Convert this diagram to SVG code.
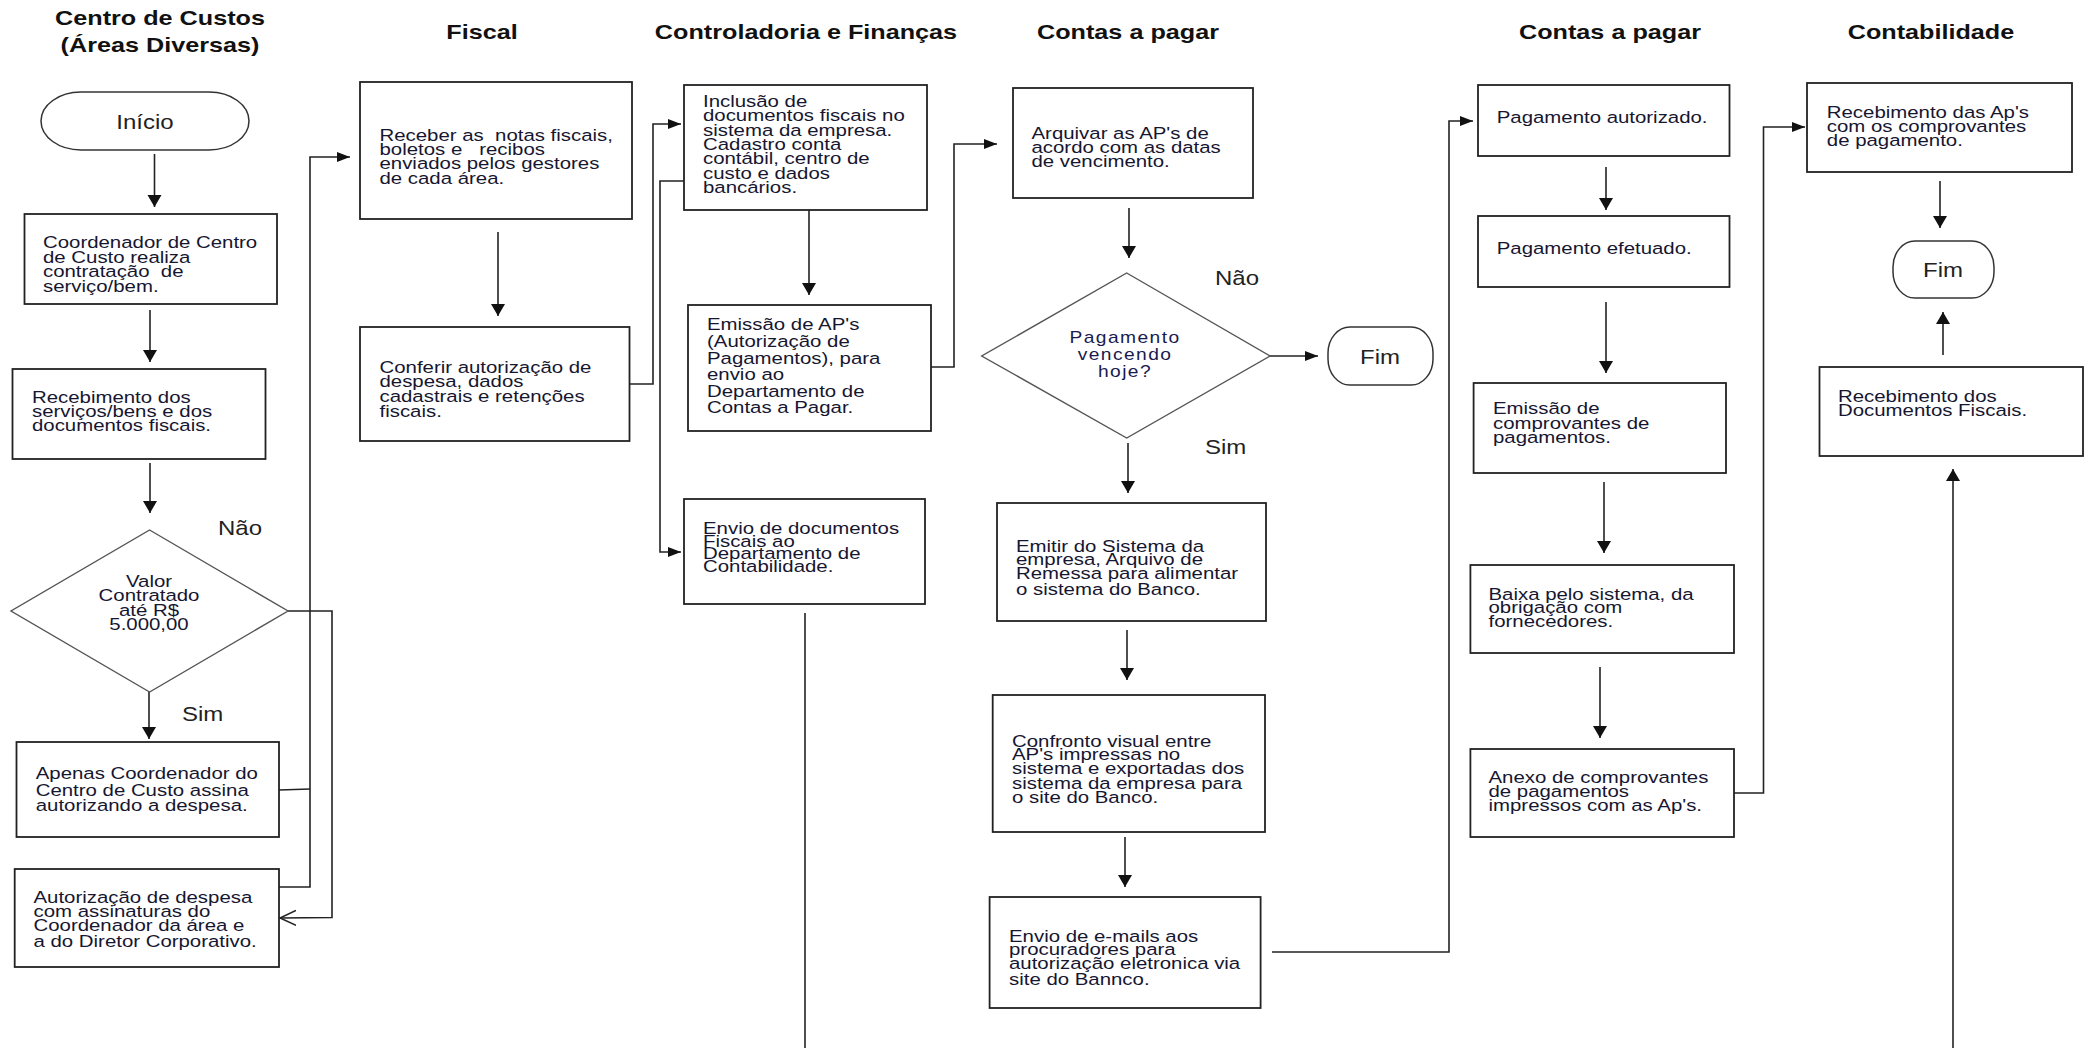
<svg xmlns="http://www.w3.org/2000/svg" width="2089" height="1048" viewBox="0 0 2089 1048">
<style>
.bg{fill:#fff}
.box{fill:#fff;stroke:#222;stroke-width:1.8}
.dia{fill:#fff;stroke:#555;stroke-width:1.4}
.term{fill:#fff;stroke:#333;stroke-width:1.5}
.con{fill:none;stroke:#222;stroke-width:1.6}
.t{font-family:"Liberation Sans",Arial,sans-serif;font-size:17px;fill:#161630;white-space:pre}
.tc{font-family:"Liberation Sans",Arial,sans-serif;font-size:17px;fill:#161630;text-anchor:middle}
.ttl{font-family:"Liberation Sans",Arial,sans-serif;font-size:20px;font-weight:bold;fill:#111;text-anchor:middle}
.lbl{font-family:"Liberation Sans",Arial,sans-serif;font-size:20px;fill:#222}
.term-t{font-family:"Liberation Sans",Arial,sans-serif;font-size:20px;fill:#222;text-anchor:middle}
.dq{font-family:"Liberation Sans",Arial,sans-serif;font-size:16px;fill:#1a1a50;text-anchor:middle;letter-spacing:1.2px}
</style>
<defs>
<marker id="ah" markerUnits="userSpaceOnUse" markerWidth="14" markerHeight="12" refX="13" refY="5" orient="auto">
<path d="M0,0 L13,5 L0,10 z" fill="#111"/>
</marker>
<marker id="av" markerUnits="userSpaceOnUse" markerWidth="13" markerHeight="15" refX="12" refY="7" orient="auto">
<path d="M0,0 L12,7 L0,14 z" fill="#111"/>
</marker>
<marker id="ao" markerUnits="userSpaceOnUse" markerWidth="18" markerHeight="18" refX="16" refY="8" orient="auto">
<path d="M0,0.5 L16,8 L0,15.5" fill="none" stroke="#222" stroke-width="1.5"/>
</marker>
</defs>
<rect class="bg" x="0" y="0" width="2089" height="1048"/>

<g id="titles">
<text class="ttl" transform="translate(160,25) scale(1.26,1)"><tspan x="0" y="0">Centro de Custos</tspan><tspan x="0" y="27">(Áreas Diversas)</tspan></text>
<text class="ttl" transform="translate(482,39) scale(1.26,1)">Fiscal</text>
<text class="ttl" transform="translate(806,39) scale(1.26,1)">Controladoria e Finanças</text>
<text class="ttl" transform="translate(1128,39) scale(1.26,1)">Contas a pagar</text>
<text class="ttl" transform="translate(1610,39) scale(1.26,1)">Contas a pagar</text>
<text class="ttl" transform="translate(1931,39) scale(1.26,1)">Contabilidade</text>
</g>

<g id="connectors">
<line class="con" x1="154.5" y1="154" x2="154.5" y2="207" marker-end="url(#av)"/>
<line class="con" x1="150" y1="310" x2="150" y2="362" marker-end="url(#av)"/>
<line class="con" x1="150" y1="463" x2="150" y2="513" marker-end="url(#av)"/>
<line class="con" x1="149" y1="692" x2="149" y2="739" marker-end="url(#av)"/>
<polyline class="con" points="288,611 332,611 332,917.5 280,918" marker-end="url(#ao)"/>
<line class="con" x1="279" y1="790" x2="310" y2="789"/>
<polyline class="con" points="279,887 310,887 310,157 350,157" marker-end="url(#ah)"/>
<line class="con" x1="498" y1="232" x2="498" y2="316" marker-end="url(#av)"/>
<polyline class="con" points="629.5,384 653,384 653,124 681,124" marker-end="url(#ah)"/>
<polyline class="con" points="684,181 660,181 660,552 681,552" marker-end="url(#ah)"/>
<line class="con" x1="809" y1="210" x2="809" y2="295" marker-end="url(#av)"/>
<line class="con" x1="805" y1="613" x2="805" y2="1048"/>
<polyline class="con" points="931,367 954,367 954,144 997,144" marker-end="url(#ah)"/>
<line class="con" x1="1129" y1="208" x2="1129" y2="258" marker-end="url(#av)"/>
<line class="con" x1="1270" y1="356" x2="1318" y2="356" marker-end="url(#ah)"/>
<line class="con" x1="1128" y1="443" x2="1128" y2="493" marker-end="url(#av)"/>
<line class="con" x1="1127" y1="630" x2="1127" y2="680" marker-end="url(#av)"/>
<line class="con" x1="1125" y1="837" x2="1125" y2="887" marker-end="url(#av)"/>
<polyline class="con" points="1272,952 1449,952 1449,121 1473,121" marker-end="url(#ah)"/>
<line class="con" x1="1606" y1="167" x2="1606" y2="210" marker-end="url(#av)"/>
<line class="con" x1="1606" y1="302" x2="1606" y2="373" marker-end="url(#av)"/>
<line class="con" x1="1604" y1="482" x2="1604" y2="553" marker-end="url(#av)"/>
<line class="con" x1="1600" y1="667" x2="1600" y2="738" marker-end="url(#av)"/>
<polyline class="con" points="1734,793 1763.5,793 1763.5,127 1805,127" marker-end="url(#ah)"/>
<line class="con" x1="1940" y1="181" x2="1940" y2="228" marker-end="url(#av)"/>
<line class="con" x1="1943" y1="355" x2="1943" y2="312" marker-end="url(#av)"/>
<line class="con" x1="1953" y1="1048" x2="1953" y2="469" marker-end="url(#av)"/>
</g>

<g id="labels">
<text class="lbl" transform="translate(218,535) scale(1.2,1)">Não</text>
<text class="lbl" transform="translate(182,721) scale(1.2,1)">Sim</text>
<text class="lbl" transform="translate(1215,285) scale(1.2,1)">Não</text>
<text class="lbl" transform="translate(1205,454) scale(1.2,1)">Sim</text>
</g>

<g id="inicio">
<rect class="term" x="41" y="92" width="208" height="58" rx="40" ry="29"/>
<text class="term-t" transform="translate(145,129) scale(1.2,1)">Início</text>
</g>

<g id="coordenador">
<rect class="box" x="24.5" y="214" width="252.5" height="90"/>
<text class="t" transform="translate(43,248) scale(1.2,1)"><tspan x="0" y="0">Coordenador de Centro</tspan><tspan x="0" y="15">de Custo realiza</tspan><tspan x="0" y="29">contratação  de</tspan><tspan x="0" y="44">serviço/bem.</tspan></text>
</g>

<g id="recebimento">
<rect class="box" x="12.5" y="369" width="253" height="90"/>
<text class="t" transform="translate(32,403) scale(1.2,1)"><tspan x="0" y="0">Recebimento dos</tspan><tspan x="0" y="14">serviços/bens e dos</tspan><tspan x="0" y="28">documentos fiscais.</tspan></text>
</g>

<g id="decisao-valor">
<polygon class="dia" points="149.6,530 288,611 149.6,692 11,611"/>
<text class="tc" transform="translate(149,587) scale(1.2,1)"><tspan x="0" y="0">Valor</tspan><tspan x="0" y="14">Contratado</tspan><tspan x="0" y="29">até R$</tspan><tspan x="0" y="43">5.000,00</tspan></text>
</g>

<g id="apenas">
<rect class="box" x="16.5" y="742" width="262.5" height="95"/>
<text class="t" transform="translate(35.7,779) scale(1.2,1)"><tspan x="0" y="0">Apenas Coordenador do</tspan><tspan x="0" y="17">Centro de Custo assina</tspan><tspan x="0" y="32">autorizando a despesa.</tspan></text>
</g>

<g id="autorizacao">
<rect class="box" x="14.7" y="869" width="264.3" height="98"/>
<text class="t" transform="translate(33.5,903) scale(1.2,1)"><tspan x="0" y="0">Autorização de despesa</tspan><tspan x="0" y="14">com assinaturas do</tspan><tspan x="0" y="28">Coordenador da área e</tspan><tspan x="0" y="44">a do Diretor Corporativo.</tspan></text>
</g>

<g id="fiscal-receber">
<rect class="box" x="360" y="82" width="272" height="137"/>
<text class="t" transform="translate(379.5,141) scale(1.2,1)"><tspan x="0" y="0">Receber as  notas fiscais,</tspan><tspan x="0" y="14">boletos e   recibos</tspan><tspan x="0" y="28">enviados pelos gestores</tspan><tspan x="0" y="43">de cada área.</tspan></text>
</g>

<g id="fiscal-conferir">
<rect class="box" x="360" y="327" width="269.5" height="114"/>
<text class="t" transform="translate(379.5,373) scale(1.2,1)"><tspan x="0" y="0">Conferir autorização de</tspan><tspan x="0" y="14">despesa, dados</tspan><tspan x="0" y="29">cadastrais e retenções</tspan><tspan x="0" y="44">fiscais.</tspan></text>
</g>

<g id="inclusao">
<rect class="box" x="684" y="85" width="243" height="125"/>
<text class="t" transform="translate(703,107) scale(1.2,1)"><tspan x="0" y="0">Inclusão de</tspan><tspan x="0" y="14">documentos fiscais no</tspan><tspan x="0" y="29">sistema da empresa.</tspan><tspan x="0" y="43">Cadastro conta</tspan><tspan x="0" y="57">contábil, centro de</tspan><tspan x="0" y="72">custo e dados</tspan><tspan x="0" y="86">bancários.</tspan></text>
</g>

<g id="emissao-ap">
<rect class="box" x="688" y="305" width="243" height="126"/>
<text class="t" transform="translate(707,330) scale(1.2,1)"><tspan x="0" y="0">Emissão de AP's</tspan><tspan x="0" y="17">(Autorização de</tspan><tspan x="0" y="34">Pagamentos), para</tspan><tspan x="0" y="50">envio ao</tspan><tspan x="0" y="67">Departamento de</tspan><tspan x="0" y="83">Contas a Pagar.</tspan></text>
</g>

<g id="envio-docs">
<rect class="box" x="684" y="499" width="241" height="105"/>
<text class="t" transform="translate(703,534) scale(1.2,1)"><tspan x="0" y="0">Envio de documentos</tspan><tspan x="0" y="13">Fiscais ao</tspan><tspan x="0" y="25">Departamento de</tspan><tspan x="0" y="38">Contabilidade.</tspan></text>
</g>

<g id="arquivar">
<rect class="box" x="1013" y="88" width="240" height="110"/>
<text class="t" transform="translate(1031.5,139) scale(1.2,1)"><tspan x="0" y="0">Arquivar as AP's de</tspan><tspan x="0" y="14">acordo com as datas</tspan><tspan x="0" y="28">de vencimento.</tspan></text>
</g>

<g id="decisao-vencendo">
<polygon class="dia" points="1126.7,273 1270,356 1126.7,438 981.7,356"/>
<text class="dq" transform="translate(1125,343) scale(1.2,1)"><tspan x="0" y="0">Pagamento</tspan><tspan x="0" y="17">vencendo</tspan><tspan x="0" y="34">hoje?</tspan></text>
</g>

<g id="fim-1">
<rect class="term" x="1328" y="327" width="105" height="58" rx="22" ry="26"/>
<text class="term-t" transform="translate(1380,364) scale(1.2,1)">Fim</text>
</g>

<g id="emitir">
<rect class="box" x="997" y="503" width="269" height="118"/>
<text class="t" transform="translate(1016,552) scale(1.2,1)"><tspan x="0" y="0">Emitir do Sistema da</tspan><tspan x="0" y="13">empresa, Arquivo de</tspan><tspan x="0" y="27">Remessa para alimentar</tspan><tspan x="0" y="43">o sistema do Banco.</tspan></text>
</g>

<g id="confronto">
<rect class="box" x="992.7" y="695" width="272.3" height="137"/>
<text class="t" transform="translate(1012,747) scale(1.2,1)"><tspan x="0" y="0">Confronto visual entre</tspan><tspan x="0" y="13">AP's impressas no</tspan><tspan x="0" y="27">sistema e exportadas dos</tspan><tspan x="0" y="42">sistema da empresa para</tspan><tspan x="0" y="56">o site do Banco.</tspan></text>
</g>

<g id="envio-emails">
<rect class="box" x="989.6" y="897" width="271" height="111"/>
<text class="t" transform="translate(1009,942) scale(1.2,1)"><tspan x="0" y="0">Envio de e-mails aos</tspan><tspan x="0" y="13">procuradores para</tspan><tspan x="0" y="27">autorização eletronica via</tspan><tspan x="0" y="43">site do Bannco.</tspan></text>
</g>

<g id="pagamento-autorizado">
<rect class="box" x="1478" y="85" width="251.5" height="71"/>
<text class="t" transform="translate(1496.7,123) scale(1.2,1)">Pagamento autorizado.</text>
</g>

<g id="pagamento-efetuado">
<rect class="box" x="1478" y="216" width="251.5" height="71"/>
<text class="t" transform="translate(1496.7,254) scale(1.2,1)">Pagamento efetuado.</text>
</g>

<g id="emissao-comprovantes">
<rect class="box" x="1473.6" y="383" width="252.4" height="90"/>
<text class="t" transform="translate(1493,414) scale(1.2,1)"><tspan x="0" y="0">Emissão de</tspan><tspan x="0" y="15">comprovantes de</tspan><tspan x="0" y="29">pagamentos.</tspan></text>
</g>

<g id="baixa">
<rect class="box" x="1470.4" y="565" width="263.6" height="88"/>
<text class="t" transform="translate(1488.5,600) scale(1.2,1)"><tspan x="0" y="0">Baixa pelo sistema, da</tspan><tspan x="0" y="13">obrigação com</tspan><tspan x="0" y="27">fornecedores.</tspan></text>
</g>

<g id="anexo">
<rect class="box" x="1470.4" y="749" width="263.6" height="88"/>
<text class="t" transform="translate(1488.5,783) scale(1.2,1)"><tspan x="0" y="0">Anexo de comprovantes</tspan><tspan x="0" y="14">de pagamentos</tspan><tspan x="0" y="28">impressos com as Ap's.</tspan></text>
</g>

<g id="recebimento-aps">
<rect class="box" x="1807" y="83" width="265" height="89"/>
<text class="t" transform="translate(1826.8,118) scale(1.2,1)"><tspan x="0" y="0">Recebimento das Ap's</tspan><tspan x="0" y="14">com os comprovantes</tspan><tspan x="0" y="28">de pagamento.</tspan></text>
</g>

<g id="fim-2">
<rect class="term" x="1893" y="241" width="101" height="57" rx="22" ry="26"/>
<text class="term-t" transform="translate(1943,277) scale(1.2,1)">Fim</text>
</g>

<g id="recebimento-docs">
<rect class="box" x="1819.5" y="367" width="263.5" height="89"/>
<text class="t" transform="translate(1838,402) scale(1.2,1)"><tspan x="0" y="0">Recebimento dos</tspan><tspan x="0" y="14">Documentos Fiscais.</tspan></text>
</g>
</svg>
